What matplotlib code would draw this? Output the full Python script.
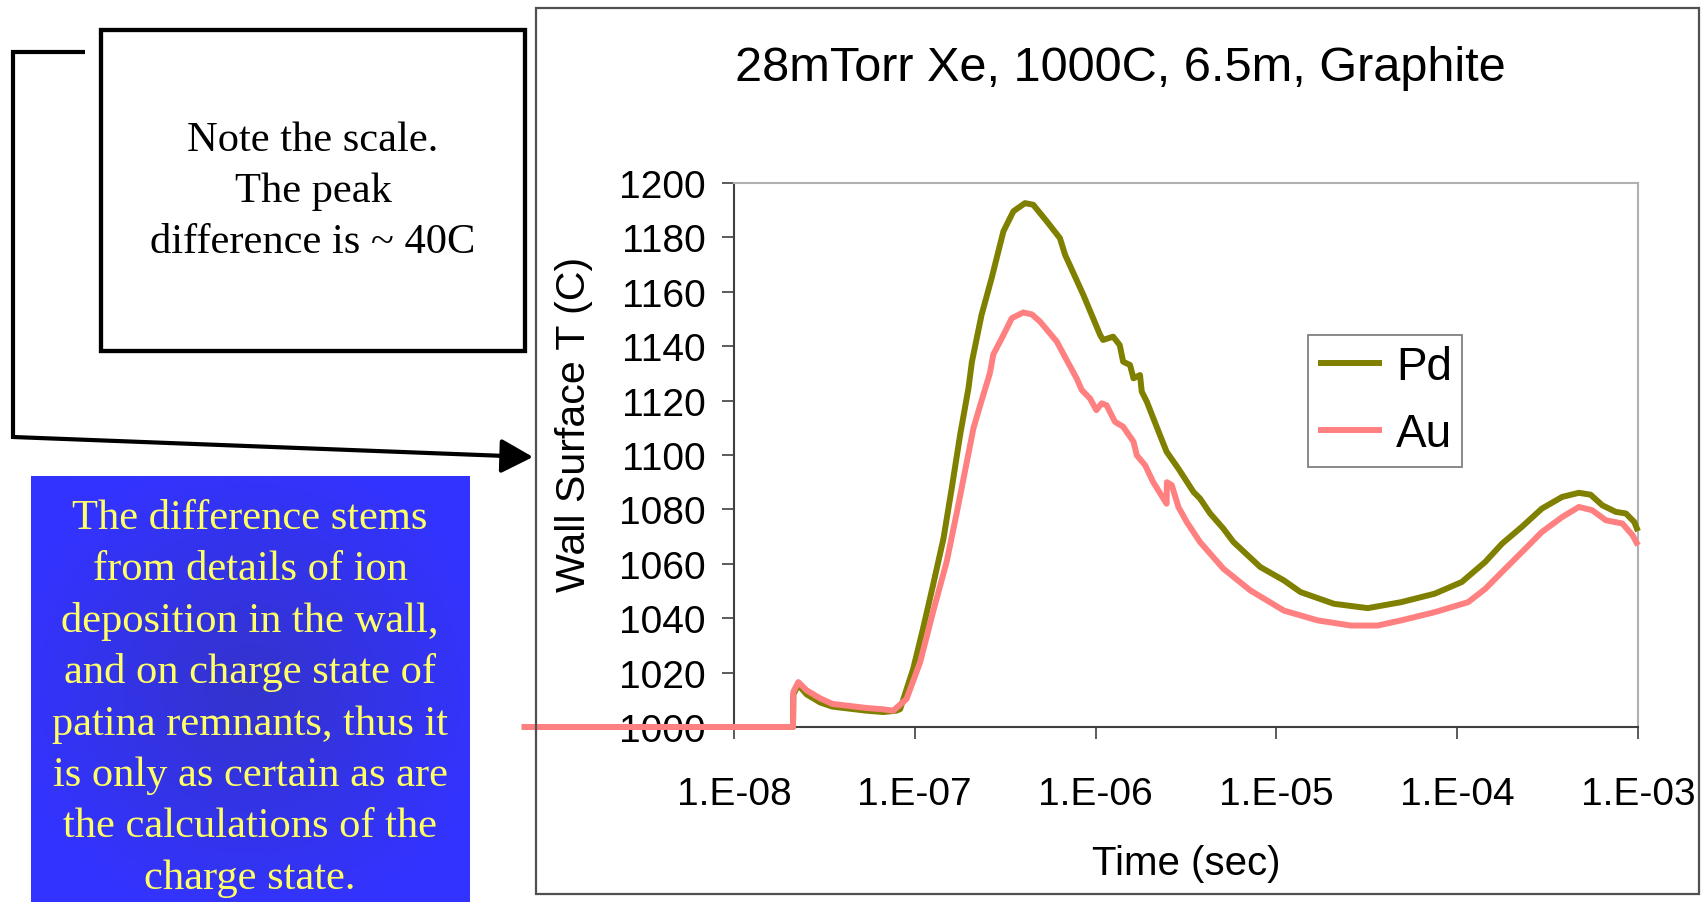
import numpy as np
import matplotlib
matplotlib.use('Agg')
import matplotlib.pyplot as plt
from matplotlib.patches import Rectangle, FancyArrowPatch
from matplotlib.lines import Line2D
from matplotlib.ticker import NullLocator

# ---------------- data ----------------
pd_time = [6.7e-10, 2.12e-8, 2.13e-8, 2.27e-8, 2.52e-8, 3.0e-8, 3.5e-8, 5.4e-8, 6.7e-8,
           7.9e-8, 8.3e-8, 9.8e-8, 1.11e-7, 1.26e-7, 1.44e-7, 1.60e-7, 1.78e-7, 1.98e-7,
           2.07e-7, 2.34e-7, 2.66e-7, 3.09e-7, 3.51e-7, 4.07e-7, 4.52e-7, 5.37e-7, 6.35e-7,
           6.78e-7, 8.55e-7, 1.06e-6, 1.10e-6, 1.25e-6, 1.36e-6, 1.42e-6, 1.55e-6, 1.62e-6,
           1.76e-6, 1.80e-6, 1.92e-6, 2.27e-6, 2.47e-6, 2.87e-6, 3.48e-6, 3.78e-6, 4.30e-6,
           5.08e-6, 5.79e-6, 8.15e-6, 1.10e-5, 1.36e-5, 2.08e-5, 3.20e-5, 4.90e-5, 7.50e-5,
           1.06e-4, 1.43e-4, 1.77e-4, 2.28e-4, 2.94e-4, 3.81e-4, 4.71e-4, 5.47e-4, 6.35e-4,
           7.53e-4, 8.57e-4, 9.53e-4, 1.0e-3]
pd_temp = [1000, 1000, 1012, 1015.5, 1012, 1009, 1007.5, 1006, 1005.5,
           1006, 1006.6, 1021.4, 1036.1, 1052, 1069.2, 1087.7, 1107.3, 1124.5,
           1134.3, 1151.5, 1165, 1182.2, 1189.6, 1192.6, 1192, 1185.9, 1179.7,
           1173.6, 1158.9, 1144.1, 1142.3, 1143.5, 1140.4, 1134.3, 1133.1, 1128.2,
           1129.4, 1123.3, 1119.6, 1107.3, 1101.2, 1095, 1086.4, 1084, 1078.5,
           1073, 1068, 1058.8, 1053.9, 1049.6, 1045.3, 1043.7, 1045.9, 1049,
           1053.3, 1060.7, 1067.4, 1073.6, 1080.3, 1084.6, 1086.1, 1085.4, 1081.5,
           1079.1, 1078.5, 1075.4, 1072]

au_time = [6.7e-10, 2.12e-8, 2.13e-8, 2.27e-8, 2.52e-8, 3.0e-8, 3.5e-8, 5.4e-8, 6.7e-8,
           7.6e-8, 9.0e-8, 1.07e-7, 1.26e-7, 1.50e-7, 1.71e-7, 1.94e-7, 2.11e-7, 2.30e-7,
           2.60e-7, 2.72e-7, 3.09e-7, 3.44e-7, 3.98e-7, 4.44e-7, 4.92e-7, 6.10e-7, 6.92e-7,
           7.85e-7, 8.38e-7, 9.31e-7, 1.01e-6, 1.08e-6, 1.15e-6, 1.28e-6, 1.42e-6, 1.62e-6,
           1.69e-6, 1.88e-6, 2.08e-6, 2.37e-6, 2.47e-6, 2.48e-6, 2.64e-6, 2.87e-6, 3.19e-6,
           3.78e-6, 5.09e-6, 7.18e-6, 1.10e-5, 1.69e-5, 2.58e-5, 3.63e-5, 4.90e-5, 7.50e-5,
           1.15e-4, 1.43e-4, 1.77e-4, 2.28e-4, 2.94e-4, 3.81e-4, 4.71e-4, 5.58e-4, 6.64e-4,
           8.20e-4, 9.33e-4, 1.0e-3]
au_temp = [1000, 1000, 1013, 1016.5, 1013.5, 1010.5, 1008.5, 1007, 1006.5,
           1006, 1010.3, 1023.8, 1042.2, 1060.7, 1079.1, 1097.5, 1109.8, 1118.3,
           1130, 1137, 1144.1, 1150.3, 1152.4, 1151.7, 1149.1, 1141.7, 1134.9,
           1128.2, 1123.9, 1120.8, 1116.5, 1119, 1118.3, 1112.2, 1110.4, 1104.9,
           1099.9, 1096.2, 1090.1, 1084, 1082.1, 1090, 1088.9, 1080.9, 1075.4,
           1068, 1058.2, 1050.2, 1042.8, 1039.2, 1037.3, 1037.3, 1039.2, 1042.2,
           1045.9, 1050.8, 1057, 1064.3, 1071.7, 1077.2, 1080.9, 1079.7, 1076,
           1074.8, 1070.5, 1066.8]

x_ticks = [1e-8, 1e-7, 1e-6, 1e-5, 1e-4, 1e-3]
x_tick_labels = ['1.E-08', '1.E-07', '1.E-06', '1.E-05', '1.E-04', '1.E-03']
y_ticks = [1000, 1020, 1040, 1060, 1080, 1100, 1120, 1140, 1160, 1180, 1200]

title = '28mTorr Xe, 1000C, 6.5m, Graphite'
note_lines = ['Note the scale.', 'The peak', 'difference is ~ 40C']
blue_lines = ['The difference stems', 'from details of ion', 'deposition in the wall,',
              'and on charge state of', 'patina remnants, thus it',
              'is only as certain as are', 'the calculations of the', 'charge state.']

SANS = 'Liberation Sans'
SERIF = 'Liberation Serif'

W, H = 1703, 903
fig = plt.figure(figsize=(W / 100, H / 100), dpi=100)
fig.patch.set_facecolor('white')


def fx(px):
    return px / W


def fy(py):
    return 1 - py / H


# chart area frame
fig.add_artist(Rectangle((fx(536), fy(895)), fx(1699) - fx(536), fy(8.5) - fy(895),
                         transform=fig.transFigure, fill=False, edgecolor='#505050', lw=1.6))

# ---------------- main axes ----------------
ax = fig.add_axes([fx(734), fy(728), (1638 - 734) / W, (728 - 184) / H])
ax.plot(pd_time, pd_temp, color='#808000', lw=4.3, clip_on=False, zorder=4,
        solid_joinstyle='round', solid_capstyle='butt', label='Pd')
ax.plot(au_time, au_temp, color='#FF8080', lw=4.3, clip_on=False, zorder=4,
        solid_joinstyle='round', solid_capstyle='butt', label='Au')
ax.set_xscale('log')
ax.set_xlim(1e-8, 1e-3)
ax.set_ylim(1000, 1200)
ax.set_xticks(x_ticks, x_tick_labels)
ax.xaxis.set_minor_locator(NullLocator())
ax.set_yticks(y_ticks)
ax.tick_params(axis='both', direction='out', length=8.6, width=1.2, color='#404040',
               labelsize=28)
ax.tick_params(axis='y', pad=12)
ax.tick_params(axis='x', pad=26.5)
for lab in ax.get_xticklabels() + ax.get_yticklabels():
    lab.set_fontfamily(SANS)

for s in ['left', 'bottom']:
    ax.spines[s].set_color('#404040')
    ax.spines[s].set_linewidth(1.5)
for s in ['top', 'right']:
    ax.spines[s].set_color('#B0B0B0')
    ax.spines[s].set_linewidth(1.5)

ax.set_xlabel('Time (sec)', fontsize=29, fontfamily=SANS)
ax.xaxis.label.set_va('center')
ax.xaxis.set_label_coords(0.5, (728 - 864) / 544)
ax.set_ylabel('Wall Surface T (C)', fontsize=29.6, fontfamily=SANS)
ax.yaxis.label.set_va('center')
ax.yaxis.label.set_ha('center')
ax.yaxis.set_label_coords((574 - 734) / 904, (728 - 424) / 544)

leg = ax.legend(loc='center', bbox_to_anchor=(fx(1385), fy(401.5)),
                bbox_transform=fig.transFigure,
                prop={'family': SANS, 'size': 33}, frameon=True, fancybox=False,
                edgecolor='#808080', framealpha=1, handlelength=1.4,
                handletextpad=0.3, labelspacing=0.52, borderpad=0.22,
                borderaxespad=0)
leg.get_frame().set_linewidth(1.3)
leg.set_zorder(5)
for h in leg.get_lines():
    h.set_linewidth(4.3)

fig.text(fx(1120), fy(81), title, fontsize=35, fontfamily=SANS, ha='center',
         va='baseline')

# ---------------- blue note box with radial shading ----------------
gax = fig.add_axes([fx(31), fy(903), fx(470) - fx(31), fy(477) - fy(903)], zorder=0)
yy, xx = np.mgrid[-1:1:200j, -1:1:200j]
r = np.clip(np.sqrt(xx ** 2 + yy ** 2) / 1.1, 0, 1)[..., None]
center_c = np.array([0.20, 0.20, 0.80])
edge_c = np.array([0.20, 0.20, 1.00])
gax.imshow(center_c + (edge_c - center_c) * r, aspect='auto', extent=(0, 1, 0, 1))
gax.axis('off')

for i, line in enumerate(blue_lines):
    fig.text(fx(250), fy(529 + 51.4 * i), line, fontsize=30.6, fontfamily=SERIF,
             color='#FFFF66', ha='center', va='baseline', zorder=5)

# ---------------- white note box ----------------
fig.add_artist(Rectangle((fx(101), fy(352)), fx(525) - fx(101), fy(31) - fy(352),
                         transform=fig.transFigure, fill=False, edgecolor='black',
                         lw=3.1, joinstyle='miter'))
for i, line in enumerate(note_lines):
    fig.text(fx(313), fy(151 + 51 * i), line, fontsize=30.6, fontfamily=SERIF,
             color='black', ha='center', va='baseline')

# bracket arrow
fig.add_artist(Line2D([fx(85), fx(13), fx(13), fx(506)],
                      [fy(53), fy(53), fy(438), fy(457)],
                      transform=fig.transFigure, color='black', lw=3.0,
                      solid_joinstyle='miter', solid_capstyle='butt'))
fig.add_artist(FancyArrowPatch((fx(500), fy(457)), (fx(533), fy(458)),
                               transform=fig.transFigure,
                               arrowstyle='-|>,head_length=1.4,head_width=0.75',
                               mutation_scale=14, color='black', lw=3.0,
                               shrinkA=0, shrinkB=0))

fig.savefig('out.png', dpi=100)
